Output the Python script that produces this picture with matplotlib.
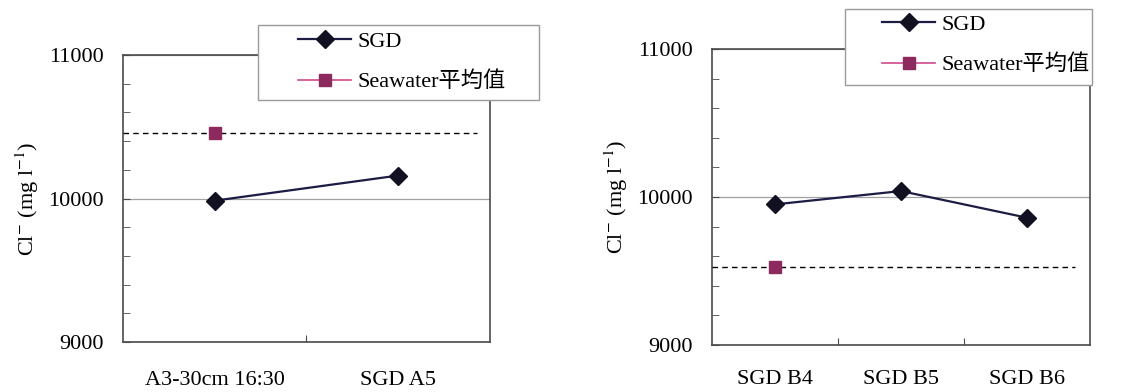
import matplotlib.pyplot as plt
from matplotlib.patches import Rectangle
from matplotlib.ticker import MultipleLocator, FixedLocator

# values
a_labels = ["A3-30cm 16:30", "SGD A5"]
a_sgd = [9985, 10160]
a_seawater = 10460

b_labels = ["SGD B4", "SGD B5", "SGD B6"]
b_sgd = [9950, 10040, 9860]
b_seawater = 9530

plt.rcParams["font.family"] = ["Liberation Serif", "Noto Sans CJK TC", "DejaVu Sans"]
plt.rcParams["mathtext.fontset"] = "stix"

sgd_color = "#1c1c44"
sw_line = "#d04a8c"
sw_mark = "#8c2a5e"
spine_color = "#4a4a4a"

W, H = 1138, 392


def draw_panel(ax, labels, sgd, seawater, dash_end, legend_anchor, frame_px, xpad):
  n = len(labels)
  x = list(range(n))
  ax.plot(x, sgd, color=sgd_color, lw=1.6, marker="D", ms=9,
          mfc="#111122", mec="#111122", label="SGD", zorder=4)
  ax.plot([0], [seawater], color=sw_line, lw=1.2, marker="s", ms=8.5,
          mfc=sw_mark, mec=sw_mark, label="Seawater平均值", zorder=4)
  ax.axhline(seawater, xmin=0, xmax=dash_end, color="black", lw=1.0,
             ls=(0, (4, 3)), zorder=3)

  ax.set_xlim(-0.5, n - 0.5)
  ax.set_ylim(9000, 11000)
  ax.yaxis.set_major_locator(MultipleLocator(1000))
  ax.yaxis.set_minor_locator(MultipleLocator(200))
  ax.yaxis.grid(True, which="major", color="#a0a0a0", lw=0.9)
  ax.set_axisbelow(True)

  ax.xaxis.set_major_locator(FixedLocator([i + 0.5 for i in range(n - 1)]))
  ax.xaxis.set_minor_locator(FixedLocator(x))
  ax.set_xticklabels([], minor=False)
  ax.set_xticklabels(labels, minor=True)
  ax.tick_params(axis="x", which="major", direction="in", length=5,
                 color=spine_color)
  ax.tick_params(axis="x", which="minor", length=0, pad=xpad, labelsize=16)
  ax.tick_params(axis="y", which="both", direction="in", length=5,
                 color=spine_color, labelsize=16, pad=14)

  for s in ax.spines.values():
    s.set_color(spine_color)
    s.set_linewidth(1.2)

  ax.set_ylabel(r"Cl$^{-}$ (mg l$^{-1}$)", fontsize=16, labelpad=5)

  # legend entries without frame, frame drawn separately to match the box
  fig = ax.figure
  leg = fig.legend(loc="center left",
                   bbox_to_anchor=(legend_anchor[0] / W, 1 - legend_anchor[1] / H),
                   handles=ax.get_lines()[:2], fontsize=16, frameon=False,
                   handlelength=2.4, handletextpad=0.27, labelspacing=0.87,
                   borderpad=0, borderaxespad=0)
  leg.set_zorder(11)
  x0, y0, x1, y1 = frame_px
  fig.patches.append(Rectangle((x0 / W, 1 - y1 / H), (x1 - x0) / W, (y1 - y0) / H,
                               transform=fig.transFigure, facecolor="white",
                               edgecolor="#9a9a9a", lw=1.0, zorder=10))


fig = plt.figure(figsize=(11.38, 3.92), dpi=100)
ax1 = fig.add_axes([0.108, 0.1276, 0.3225, 0.732])
ax2 = fig.add_axes([0.6257, 0.12, 0.332, 0.755])

draw_panel(ax1, a_labels, a_sgd, a_seawater, 0.965, (298, 62), (258, 25, 539, 100), 21)
draw_panel(ax2, b_labels, b_sgd, b_seawater, 0.96, (882, 45), (845, 9, 1092, 85), 18)

fig.savefig("out.png", dpi=100, facecolor="white")
